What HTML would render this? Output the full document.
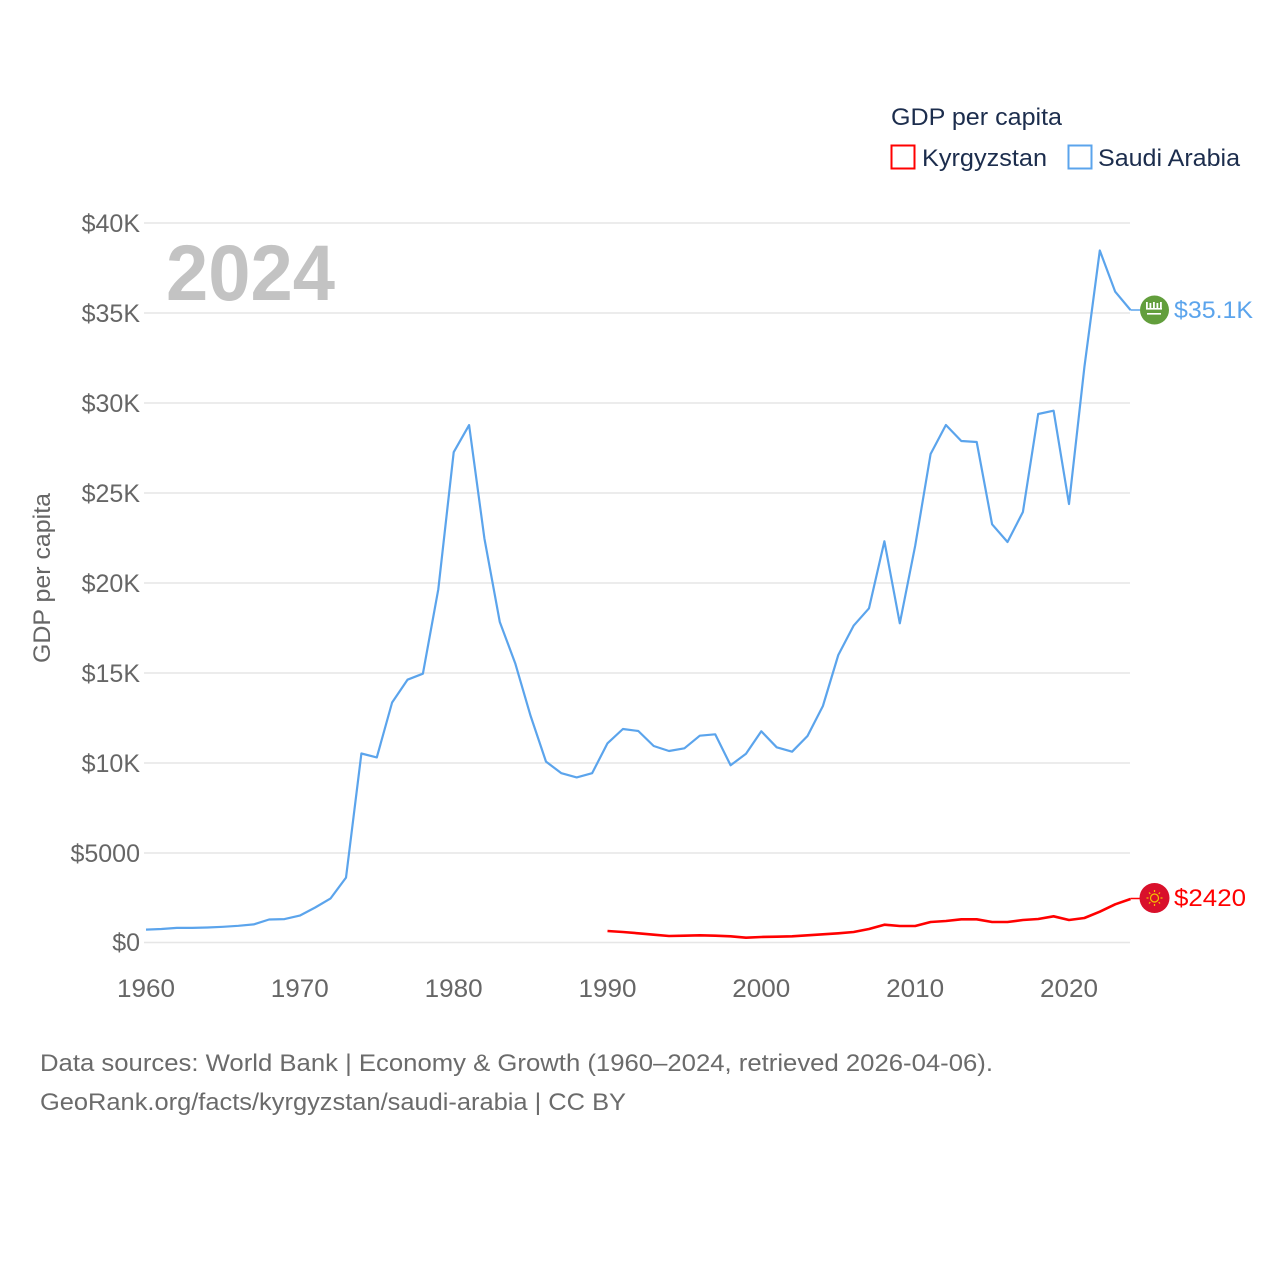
<!DOCTYPE html>
<html>
<head>
<meta charset="utf-8">
<style>
  html, body { margin: 0; padding: 0; background: #ffffff; }
  svg { display: block; }
  text { font-family: "Liberation Sans", "DejaVu Sans", sans-serif; }
</style>
</head>
<body>
<svg width="1280" height="1280" viewBox="0 0 1280 1280" xmlns="http://www.w3.org/2000/svg">
  <rect width="1280" height="1280" fill="#ffffff"/>

  <!-- Gridlines -->
  <g stroke="#e6e6e6" stroke-width="1.5">
    <line x1="144" y1="223" x2="1130" y2="223"/>
    <line x1="144" y1="313" x2="1130" y2="313"/>
    <line x1="144" y1="403" x2="1130" y2="403"/>
    <line x1="144" y1="493" x2="1130" y2="493"/>
    <line x1="144" y1="583" x2="1130" y2="583"/>
    <line x1="144" y1="673" x2="1130" y2="673"/>
    <line x1="144" y1="763" x2="1130" y2="763"/>
    <line x1="144" y1="853" x2="1130" y2="853"/>
    <line x1="144" y1="942.5" x2="1130" y2="942.5"/>
  </g>

  <!-- Y tick labels -->
  <g fill="#666666" font-size="25" text-anchor="end">
    <text x="140" y="232">$40K</text>
    <text x="140" y="322">$35K</text>
    <text x="140" y="412">$30K</text>
    <text x="140" y="502">$25K</text>
    <text x="140" y="592">$20K</text>
    <text x="140" y="682">$15K</text>
    <text x="140" y="772">$10K</text>
    <text x="140" y="862">$5000</text>
    <text x="140" y="951">$0</text>
  </g>

  <!-- X tick labels -->
  <g fill="#666666" font-size="25" text-anchor="middle">
    <text x="146" y="997" textLength="58" lengthAdjust="spacingAndGlyphs">1960</text>
    <text x="299.8" y="997" textLength="58" lengthAdjust="spacingAndGlyphs">1970</text>
    <text x="453.7" y="997" textLength="58" lengthAdjust="spacingAndGlyphs">1980</text>
    <text x="607.5" y="997" textLength="58" lengthAdjust="spacingAndGlyphs">1990</text>
    <text x="761.3" y="997" textLength="58" lengthAdjust="spacingAndGlyphs">2000</text>
    <text x="915.2" y="997" textLength="58" lengthAdjust="spacingAndGlyphs">2010</text>
    <text x="1069" y="997" textLength="58" lengthAdjust="spacingAndGlyphs">2020</text>
  </g>

  <!-- Y axis title -->
  <text transform="translate(50,578) rotate(-90)" fill="#666666" font-size="24" text-anchor="middle" textLength="170" lengthAdjust="spacingAndGlyphs">GDP per capita</text>

  <!-- Big year -->
  <text x="166" y="300" fill="#c3c3c3" font-size="79" font-weight="bold" textLength="169" lengthAdjust="spacingAndGlyphs">2024</text>

  <!-- Legend -->
  <text x="891" y="125" fill="#1c2d4d" font-size="24" textLength="171" lengthAdjust="spacingAndGlyphs">GDP per capita</text>
  <rect x="891.5" y="145.5" width="23" height="23" fill="none" stroke="#ff0000" stroke-width="2"/>
  <text x="922" y="166" fill="#1c2d4d" font-size="24" textLength="125" lengthAdjust="spacingAndGlyphs">Kyrgyzstan</text>
  <rect x="1068.5" y="145.5" width="23" height="23" fill="none" stroke="#5ba4ec" stroke-width="2"/>
  <text x="1098" y="166" fill="#1c2d4d" font-size="24" textLength="142" lengthAdjust="spacingAndGlyphs">Saudi Arabia</text>

  <!-- Saudi Arabia series -->
  <polyline fill="none" stroke="#5ba4ec" stroke-width="2.2" stroke-linejoin="round" points="
    146.0,929.6 161.4,929.0 176.8,927.9 192.2,927.9 207.5,927.5 222.9,926.8 238.3,925.8 253.7,924.4
    269.1,919.5 284.5,919.1 299.8,915.6 315.2,907.5 330.6,898.4 346.0,877.6 361.4,753.5 376.8,757.4
    392.1,702.5 407.5,679.7 422.9,673.7 438.3,589.3 453.7,452.2 469.1,425.1 484.4,538.4 499.8,622.0
    515.2,663.2 530.6,715.9 546.0,761.6 561.4,773.2 576.7,777.4 592.1,773.2 607.5,743.3 622.9,729.0
    638.3,731.0 653.7,746.0 669.0,751.0 684.4,748.3 699.8,735.7 715.2,734.3 730.6,765.3 746.0,753.7
    761.3,731.3 776.7,747.3 792.1,751.7 807.5,736.0 822.9,706.0 838.3,655.0 853.6,625.7 869.0,608.3
    884.4,541.3 899.8,623.3 915.2,545.7 930.6,454.0 945.9,425.0 961.3,441.0 976.7,442.0 992.1,524.3
    1007.5,542.0 1022.9,512.0 1038.2,414.0 1053.6,410.7 1069.0,504.0 1084.4,367.0 1099.8,250.5
    1115.2,291.7 1130.5,310.0"/>

  <!-- Kyrgyzstan series -->
  <polyline fill="none" stroke="#ff0000" stroke-width="2.6" stroke-linejoin="round" points="
    607.5,931 622.9,932 638.3,933.3 653.7,934.7 669.0,936 684.4,935.7 699.8,935.3 715.2,935.7
    730.6,936.3 746.0,937.7 761.3,937 776.7,936.7 792.1,936.3 807.5,935.3 822.9,934.3 838.3,933.3
    853.6,932 869.0,929 884.4,924.7 899.8,926 915.2,926 930.6,922 945.9,921 961.3,919.3 976.7,919.3
    992.1,922 1007.5,922 1022.9,920 1038.2,919 1053.6,916.3 1069.0,920 1084.4,918 1099.8,911.7
    1115.2,904.3 1130.5,899"/>

  <!-- Saudi end marker -->
  <line x1="1130.5" y1="310" x2="1140" y2="310" stroke="#5ba4ec" stroke-width="1.5"/>
  <circle cx="1154.5" cy="310" r="14.5" fill="#629e3c"/>
  <g fill="#ffffff">
    <rect x="1146" y="302" width="1.8" height="7"/>
    <rect x="1149.5" y="303" width="1.8" height="6"/>
    <rect x="1153" y="302" width="1.8" height="7"/>
    <rect x="1156.5" y="303" width="1.8" height="6"/>
    <rect x="1160" y="302" width="1.8" height="7"/>
    <rect x="1146" y="308" width="16" height="1.6"/>
    <rect x="1147" y="313" width="14" height="1.6"/>
  </g>
  <text x="1174" y="318" fill="#5ba4ec" font-size="24" textLength="79" lengthAdjust="spacingAndGlyphs">$35.1K</text>

  <!-- Kyrgyz end marker -->
  <line x1="1130.5" y1="898.5" x2="1140" y2="898.5" stroke="#ff0000" stroke-width="1.5"/>
  <circle cx="1154.5" cy="898" r="15" fill="#d9102b"/>
  <g stroke="#f5c400" stroke-width="1.2" fill="none">
    <circle cx="1154.5" cy="898" r="4"/>
    <line x1="1154.5" y1="890" x2="1154.5" y2="892"/>
    <line x1="1154.5" y1="904" x2="1154.5" y2="906"/>
    <line x1="1146.5" y1="898" x2="1148.5" y2="898"/>
    <line x1="1160.5" y1="898" x2="1162.5" y2="898"/>
    <line x1="1149" y1="892.5" x2="1150.3" y2="893.8"/>
    <line x1="1158.7" y1="902.2" x2="1160" y2="903.5"/>
    <line x1="1160" y1="892.5" x2="1158.7" y2="893.8"/>
    <line x1="1150.3" y1="902.2" x2="1149" y2="903.5"/>
  </g>
  <text x="1174" y="906" fill="#ff0000" font-size="24" textLength="72" lengthAdjust="spacingAndGlyphs">$2420</text>

  <!-- Footer -->
  <text x="40" y="1071" fill="#6b6b6b" font-size="24" textLength="953" lengthAdjust="spacingAndGlyphs">Data sources: World Bank | Economy &amp; Growth (1960–2024, retrieved 2026-04-06).</text>
  <text x="40" y="1110" fill="#6b6b6b" font-size="24" textLength="586" lengthAdjust="spacingAndGlyphs">GeoRank.org/facts/kyrgyzstan/saudi-arabia | CC BY</text>
</svg>
</body>
</html>
